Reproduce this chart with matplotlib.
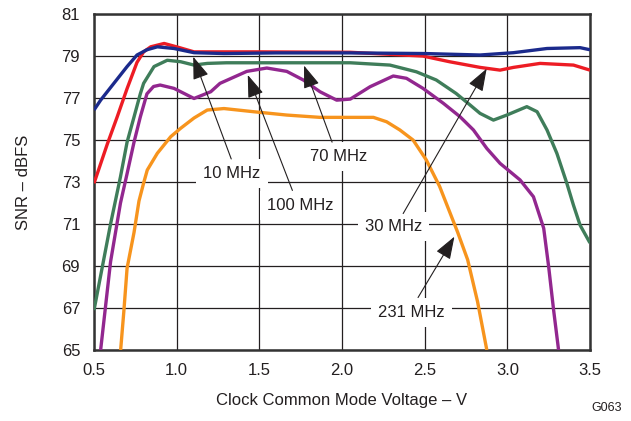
import numpy as np
import matplotlib
matplotlib.use("Agg")
from matplotlib import pyplot as plt

plt.rcParams['font.family'] = ['Liberation Sans', 'DejaVu Sans']

# Curves: (clock common mode voltage [V], SNR [dBFS])
v_10 = [0.5, 0.54, 0.62, 0.7, 0.76, 0.82, 0.883, 0.984, 1.105, 1.286, 1.6, 2.05, 2.5, 2.835, 3.037, 3.24, 3.44, 3.5]
snr_10 = [76.43, 76.9, 77.7, 78.5, 79.05, 79.3, 79.44, 79.36, 79.16, 79.12, 79.15, 79.15, 79.12, 79.05, 79.16,
          79.36, 79.4, 79.3]

v_30 = [0.5, 0.58, 0.64, 0.7, 0.76, 0.8, 0.843, 0.924, 1.004, 1.105, 1.5, 2.05, 2.49, 2.65, 2.835, 2.956, 3.037,
        3.198, 3.4, 3.5]
snr_30 = [72.94, 74.8, 76.1, 77.45, 78.7, 79.2, 79.44, 79.6, 79.43, 79.2, 79.2, 79.18, 79.0, 78.73, 78.46, 78.33,
          78.46, 78.65, 78.57, 78.33]

v_70 = [0.5, 0.6, 0.66, 0.7, 0.742, 0.78, 0.8, 0.863, 0.943, 1.024, 1.105, 1.185, 1.3, 2.05, 2.29, 2.45, 2.57,
        2.69, 2.77, 2.835, 2.916, 2.997, 3.118, 3.18, 3.24, 3.3, 3.36, 3.4, 3.44, 3.5]
snr_70 = [66.9, 71.0, 73.25, 74.9, 76.1, 77.2, 77.7, 78.5, 78.8, 78.73, 78.57, 78.65, 78.68, 78.68, 78.57, 78.25,
          77.86, 77.22, 76.7, 76.27, 75.95, 76.19, 76.59, 76.35, 75.48, 74.36, 72.94, 71.9, 70.95, 70.1]

v_100 = [0.54, 0.6, 0.66, 0.7, 0.742, 0.78, 0.82, 0.86, 0.9, 0.984, 1.105, 1.206, 1.262, 1.424, 1.545, 1.666,
         1.766, 1.867, 1.968, 2.05, 2.17, 2.31, 2.39, 2.49, 2.613, 2.714, 2.795, 2.876, 2.956, 3.077, 3.158, 3.22,
         3.25, 3.28, 3.31]
snr_100 = [65.0, 69.2, 72.0, 73.4, 74.9, 76.1, 77.2, 77.55, 77.62, 77.46, 76.98, 77.3, 77.7, 78.27, 78.43, 78.27,
           77.86, 77.3, 76.9, 76.95, 77.54, 78.05, 77.94, 77.46, 76.75, 76.11, 75.48, 74.6, 73.89, 73.1, 72.3, 70.8,
           68.97, 66.9, 65.0]

v_231 = [0.661, 0.68, 0.7, 0.742, 0.772, 0.8, 0.822, 0.883, 0.964, 1.024, 1.105, 1.185, 1.286, 1.464, 1.666,
         1.867, 2.05, 2.19, 2.27, 2.35, 2.43, 2.51, 2.59, 2.7, 2.76, 2.82, 2.876]
snr_231 = [65.0, 66.8, 68.9, 70.6, 72.1, 72.95, 73.57, 74.37, 75.16, 75.56, 76.05, 76.43, 76.5, 76.35, 76.19, 76.08,
           76.08, 76.08, 75.87, 75.48, 75.0, 74.05, 72.8, 70.6, 69.3, 67.3, 65.0]

# label text, text position, arrow tail and arrow tip
labels = ["10 MHz", "70 MHz", "100 MHz", "30 MHz", "231 MHz"]
label_xy = [(1.335, 73.4), (1.98, 74.2), (1.75, 71.9), (2.31, 70.9), (2.42, 66.8)]
tail_xy = [(1.33, 74.1), (1.94, 74.9), (1.70, 72.6), (2.37, 71.5), (2.46, 67.5)]
tip_xy = [(1.1, 78.97), (1.77, 78.55), (1.43, 78.1), (2.875, 78.4), (2.68, 70.4)]

fig = plt.figure(figsize=(6.31, 4.21), dpi=100)
ax = fig.add_axes([0.149, 0.1686, 0.786, 0.798])

lw = 2.4
curves = [(v_231, snr_231, '#f7941d'), (v_100, snr_100, '#92278f'), (v_70, snr_70, '#3f7d5a'),
          (v_30, snr_30, '#ed1c24'), (v_10, snr_10, '#1b2a8c')]
for v, s, c in curves:
    ax.plot(v, s, color=c, lw=lw, zorder=3, solid_joinstyle='round', solid_capstyle='butt')

for txt, (tx, ty), tail, tip in zip(labels, label_xy, tail_xy, tip_xy):
    ax.annotate("", xy=tip, xytext=tail,
                arrowprops=dict(arrowstyle='-|>,head_length=1.4,head_width=0.5', color='#231f20', lw=0.8,
                                shrinkA=0, shrinkB=0), zorder=5)
    ax.text(tx, ty, txt, ha='center', va='center', fontsize=12, color='#231f20', zorder=4,
            bbox=dict(facecolor='white', edgecolor='none', pad=5))

ax.set_xlim(0.5, 3.5)
ax.set_ylim(65, 81)
ax.set_xticks(np.arange(0.5, 3.51, 0.5))
ax.set_yticks(np.arange(65, 81.1, 2))
ax.set_xticklabels(["0.5", "1.0", "1.5", "2.0", "2.5", "3.0", "3.5"])
ax.grid(True, color='#231f20', lw=0.9)
ax.set_axisbelow(True)
ax.tick_params(axis='x', length=0, labelsize=12, pad=9, colors='#231f20')
ax.tick_params(axis='y', length=0, labelsize=12, pad=10, colors='#231f20')
for s in ax.spines.values():
    s.set_linewidth(1.8)
    s.set_color('#333333')

ax.set_xlabel("Clock Common Mode Voltage – V", fontsize=12, labelpad=11, color='#231f20')
ax.set_ylabel("SNR – dBFS", fontsize=12, labelpad=22, color='#231f20')
fig.text(0.986, 0.017, "G063", fontsize=9, ha='right', va='bottom', color='#231f20')

fig.savefig("out.png", dpi=100)
